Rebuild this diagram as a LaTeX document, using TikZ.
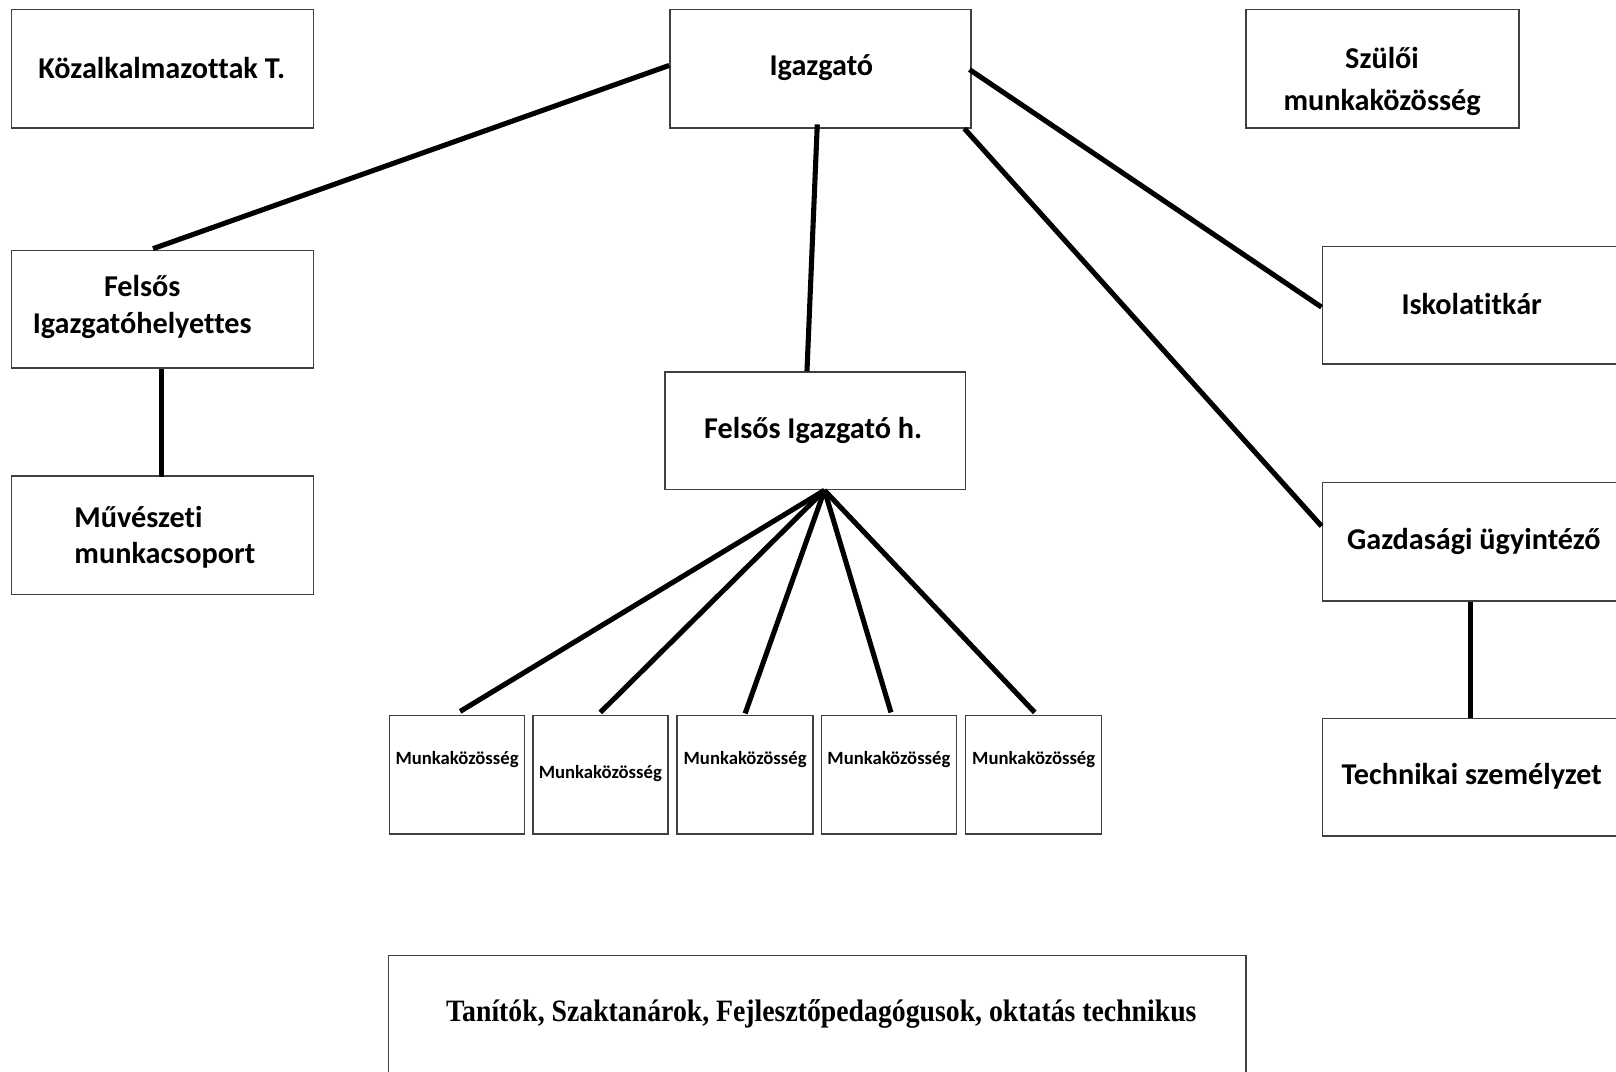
\documentclass[tikz,border=0pt]{standalone}
\usepackage{fontspec}
\setmainfont{Carlito}[Ligatures=CommonOff]
\newfontfamily\tnr{Liberation Serif}
\usetikzlibrary{calc}
\begin{document}
\begin{tikzpicture}[x=0.75pt,y=-0.75pt,
  bx/.style 2 args={draw=black!75, line width=1.1pt, minimum width=#1*0.75pt, minimum height=#2*0.75pt, inner sep=0pt},
  lbl/.style={font=\bfseries\fontsize{22}{26.5}\selectfont, align=center, inner sep=0pt},
  small/.style={font=\bfseries\fontsize{13.6}{16}\selectfont, inner sep=0pt},
  con/.style={line width=3.7pt, black}]
\useasboundingbox (0,0) rectangle (1568,1040);
\clip (0,0) rectangle (1568,1040);
\fill[white] (0,0) rectangle (1568,1040);
% boxes
\node[bx={293}{115}] (koz) at (157.5,66.5) {};
\node[bx={292}{115}] (igaz) at (796,66.5) {};
\node[bx={265}{115}] (szul) at (1341.5,66.5) {};
\node[bx={293}{114}] (fih) at (157.5,300) {};
\node[bx={293}{115}] (muv) at (157.5,519.5) {};
\node[bx={292}{114}] (fi) at (791,418) {};
\node[bx={290}{114}] (isk) at (1428,296) {};
\node[bx={290}{115}] (gaz) at (1428,525.5) {};
\node[bx={290}{114}] (tech) at (1428,754) {};
\node[bx={131}{115}] (m1) at (443.5,751.5) {};
\node[bx={131}{115}] (m2) at (582.5,751.5) {};
\node[bx={132}{115}] (m3) at (723,751.5) {};
\node[bx={131}{115}] (m4) at (862.5,751.5) {};
\node[bx={132}{115}] (m5) at (1003,751.5) {};
\node[bx={832}{116}] (tan) at (793,985) {};
% texts
\node[lbl] (kozT) at (157,66) {Közalkalmazottak T.};
\node[lbl] (igazT) at (797,66) {Igazgató};
\node[lbl, font=\bfseries\fontsize{22}{30}\selectfont] (szulT) at (1341,79) {Szülői\\munkaközösség};
\node[lbl] (fihT) at (138,298) {Felsős\\Igazgatóhelyettes};
\node[lbl, align=left, anchor=west] (muvT) at (72,521.5) {Művészeti\\munkacsoport};
\node[lbl] (fiT) at (789,418) {Felsős Igazgató h.};
\node[lbl] (iskT) at (1428,295) {Iskolatitkár};
\node[lbl] (gazT) at (1430,525) {Gazdasági ügyintéző};
\node[lbl] (techT) at (1428,753) {Technikai személyzet};
\node[small] (m1T) at (443.5,737) {Munkaközösség};
\node[small] (m2T) at (582.5,751) {Munkaközösség};
\node[small] (m3T) at (723,737) {Munkaközösség};
\node[small] (m4T) at (862.5,737) {Munkaközösség};
\node[small] (m5T) at (1003,737) {Munkaközösség};
\node[inner sep=0pt, font=\tnr\bfseries\fontsize{20.2}{24}\selectfont] (tanT) at (797,984) {\scalebox{1}[1.12]{Tanítók, Szaktanárok, Fejlesztőpedagógusok, oktatás technikus}};
% connectors
\draw[con] ($(igaz.west)+(0,-3)$) -- ($(fih.north)+(-9,-1)$);
\draw[con] ($(igaz.south)+(-3,-4)$) -- ($(fi.north)+(-8,0)$);
\draw[con] ($(igaz.east)+(-2,1)$) -- ($(isk.west)+(0,2)$);
\draw[con] ($(igaz.south east)+(-7,0)$) -- ($(gaz.west)+(0,-15)$);
\draw[con] ($(fih.south)+(-1,0)$) -- ($(muv.north)+(-1,2)$);
\draw[con] ($(gaz.south)+(-1,0)$) -- ($(tech.north)+(-1,0)$);
\coordinate (fan) at ($(fi.south)+(9,0)$);
\draw[con] (fan) -- ($(m1.north)+(3,-3)$);
\draw[con] (fan) -- ($(m2.north)+(0,-2)$);
\draw[con] (fan) -- ($(m3.north)+(0,-1)$);
\draw[con] (fan) -- ($(m4.north)+(2,-2)$);
\draw[con] (fan) -- ($(m5.north)+(1,-2)$);
\end{tikzpicture}
\end{document}
